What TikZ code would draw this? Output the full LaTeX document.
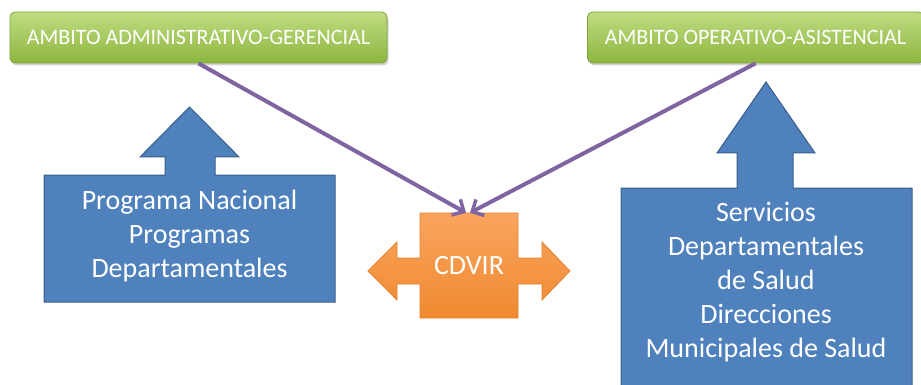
\documentclass[tikz,border=0pt]{standalone}
\usepackage{fontspec}
\setmainfont{Carlito}
\usetikzlibrary{arrows.meta,shadows}
\definecolor{greentop}{HTML}{BFDC82}
\definecolor{greenbot}{HTML}{8DB63F}
\definecolor{greenline}{HTML}{7EA13A}
\definecolor{bluefill}{HTML}{4F81BD}
\definecolor{blueline}{HTML}{385D8A}
\definecolor{orangetop}{HTML}{F9A45E}
\definecolor{orangebot}{HTML}{F08A30}
\definecolor{orangeline}{HTML}{E3822F}
\definecolor{purpleline}{HTML}{8064A2}
\tikzset{
  ambito/.style={draw=greenline, line width=0.8pt, rounded corners=5pt,
    top color=greentop, bottom color=greenbot, text=white,
    font=\fontsize{22}{26}\selectfont, inner sep=0pt,
    drop shadow={opacity=0.35, shadow xshift=1.5pt, shadow yshift=-2.5pt}},
  callout/.style={draw=blueline, line width=1pt, fill=bluefill, line join=miter},
  calloutText/.style={text=white, align=center, font=\fontsize{28}{34}\selectfont},
  crossarrow/.style={draw=orangeline, line width=0.8pt, top color=orangetop, bottom color=orangebot},
  flow/.style={draw=purpleline, line width=4pt, -{Straight Barb[length=9pt,width=18pt,line width=3.5pt]}}
}
\begin{document}
\begin{tikzpicture}[x=1pt,y=-1pt]
\useasboundingbox (0,0) rectangle (921,385);
\clip (0,0) rectangle (921,385);

% left up-arrow callout
\draw[callout] (44,175) -- (165,175) -- (165,157) -- (140,157) -- (189.5,107)
  -- (239,157) -- (215,157) -- (215,175) -- (335,175) -- (335,302) -- (44,302) -- cycle;
\node[calloutText] (programas) at (189.5,236) {Programa Nacional\\Programas\\Departamentales};

% right up-arrow callout
\draw[callout] (621,188) -- (737,188) -- (737,153) -- (717,153) -- (766,82)
  -- (815,153) -- (793,153) -- (793,188) -- (912,188) -- (912,400) -- (621,400) -- cycle;
\node[calloutText] (servicios) at (766,282) {Servicios\\Departamentales\\de Salud\\Direcciones\\Municipales de Salud};

% central left-right arrow callout
\draw[crossarrow] (420,213) -- (518,213) -- (518,258) -- (542,258) -- (542,242) -- (570,271)
  -- (542,300) -- (542,284) -- (518,284) -- (518,318) -- (420,318) -- (420,284)
  -- (397,284) -- (397,300) -- (368,271) -- (397,242) -- (397,258) -- (420,258) -- cycle;
\node[minimum width=98pt, minimum height=105pt, text=white,
  font=\fontsize{28}{32}\selectfont] (cdvir) at (469,265.5) {\raisebox{-4pt}{CDVIR}};

% domain boxes
\node[ambito, minimum width=377pt, minimum height=51pt] (adm) at (198.5,37.5) {AMBITO ADMINISTRATIVO-GERENCIAL};
\node[ambito, minimum width=336pt, minimum height=51pt] (ope) at (755.5,37.5) {AMBITO OPERATIVO-ASISTENCIAL};

% links into CDVIR
\draw[flow] (adm.south) -- ([xshift=-3pt]cdvir.north);
\draw[flow] (ope.south) -- ([xshift=1pt]cdvir.north);
\end{tikzpicture}
\end{document}
